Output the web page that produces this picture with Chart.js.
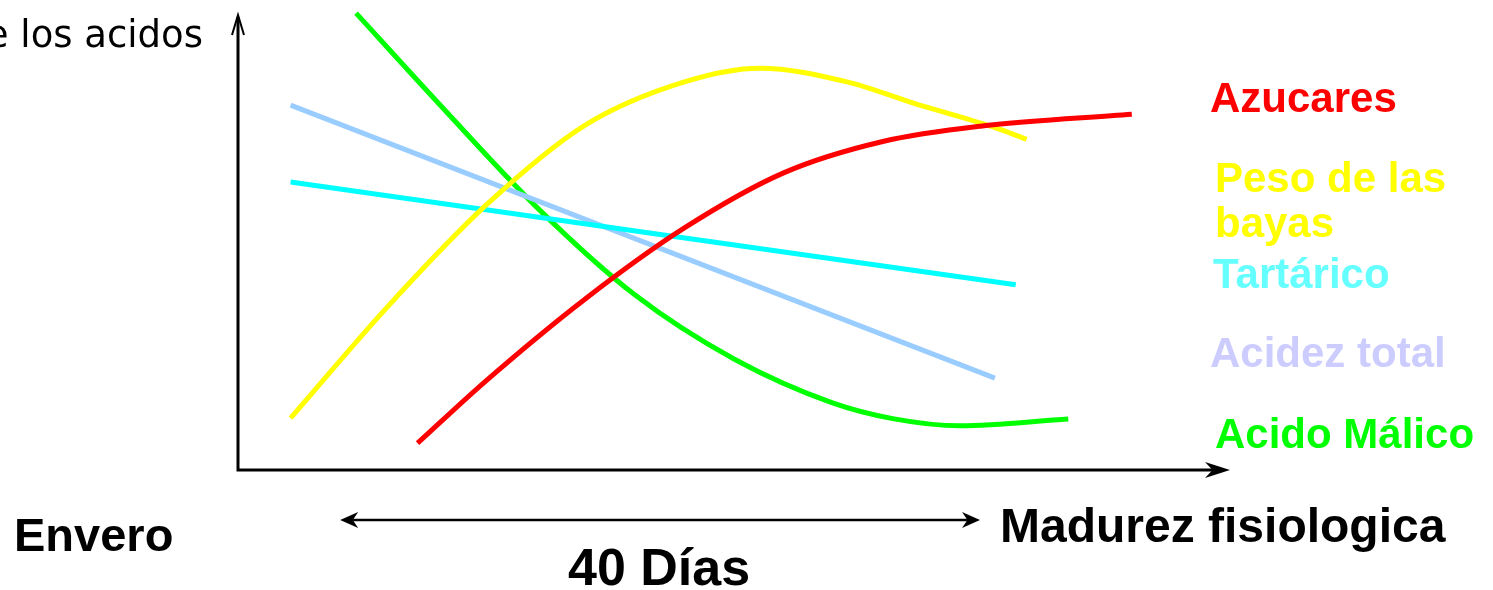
<!DOCTYPE html>
<html lang="es">
<head>
<meta charset="UTF-8">
<title>Maduracion de la uva</title>
<script src="https://cdn.jsdelivr.net/npm/chart.js"></script>
<style>
  html, body { margin: 0; padding: 0; background: #fff; }
  canvas { display: block; }
</style>
</head>
<body>
<canvas id="grafico" width="1493" height="590"></canvas>

<script>
// datos (x: 0-100 desde el eje, y: 0-100 relativo)
const nombres = ['Azucares', 'Peso de las bayas', 'Tartárico', 'Acidez total', 'Acido Málico'];
const etiquetas = [['Azucares'], ['Peso de las', 'bayas'], ['Tartárico'], ['Acidez total'], ['Acido Málico']];
const coloresLinea = ['#ff0000', '#ffff00', '#00ffff', '#99ccff', '#00ff00'];
const coloresTexto = ['#ff0000', '#ffff00', '#66ffff', '#ccccff', '#00ff00'];

const azucaresX = [18.1, 25, 35, 45, 55, 65, 75, 90.1];
const azucaresY = [5.9, 19.6, 37.6, 53.2, 65.3, 72.2, 75.6, 78.2];

const pesoX = [5.3, 15, 25, 35, 45, 52.6, 61.4, 68, 76.1, 79.5];
const pesoY = [11.4, 35.7, 58.2, 75.8, 85.3, 88.3, 85.3, 80.7, 75.4, 72.7];

const tartaricoX = [5.3, 78.4];
const tartaricoY = [63.3, 40.7];

const acidezX = [5.3, 76.3];
const acidezY = [80.2, 20.2];

const malicoX = [11.9, 20, 30, 40, 50, 60, 66, 72.8, 83.7];
const malicoY = [100.4, 81.1, 58.0, 38.5, 24.4, 14.7, 11.3, 9.7, 11.2];

const tituloY = 'Evolución de los acidos';
const textoInicio = 'Envero';
const textoFin = 'Madurez fisiologica';
const textoDias = '40 Días';
const rangoDias = [10.3, 74.8]; // flecha doble, en unidades del eje x

function puntos(xs, ys) {
    let lista = [];
    for (let i = 0; i < xs.length; i++) {
        lista.push({ x: xs[i], y: ys[i] });
    }
    return lista;
}

const series = [
    puntos(azucaresX, azucaresY),
    puntos(pesoX, pesoY),
    puntos(tartaricoX, tartaricoY),
    puntos(acidezX, acidezY),
    puntos(malicoX, malicoY)
];

const datasets = series.map(function (d, i) {
    return {
        label: nombres[i],
        data: d,
        borderColor: coloresLinea[i],
        borderWidth: 5,
        pointRadius: 0,
        fill: false,
        clip: false,
        cubicInterpolationMode: 'monotone'
    };
});

function punta(ctx, x, y, dir, largo, ancho) {
    // flecha rellena con muesca, dir = angulo en radianes
    ctx.save();
    ctx.translate(x, y);
    ctx.rotate(dir);
    ctx.beginPath();
    ctx.moveTo(0, 0);
    ctx.lineTo(-largo, -ancho);
    ctx.lineTo(-largo * 0.7, 0);
    ctx.lineTo(-largo, ancho);
    ctx.closePath();
    ctx.fill();
    ctx.restore();
}

// dibuja ejes, flechas y textos
const decoracion = {
    id: 'decoracion',
    beforeDatasetsDraw(chart) {
        const ctx = chart.ctx;
        const sx = chart.scales.x;
        const sy = chart.scales.y;
        const x0 = sx.getPixelForValue(0);
        const y0 = sy.getPixelForValue(0);
        const xFin = sx.getPixelForValue(100);
        const yFin = sy.getPixelForValue(100);

        ctx.save();
        ctx.strokeStyle = '#000';
        ctx.fillStyle = '#000';
        ctx.lineWidth = 3;
        ctx.beginPath();
        ctx.moveTo(x0, yFin + 2);
        ctx.lineTo(x0, y0);
        ctx.lineTo(xFin - 6, y0);
        ctx.stroke();

        // punta abierta del eje y
        ctx.lineWidth = 2;
        ctx.beginPath();
        ctx.moveTo(x0 - 6, yFin + 20);
        ctx.lineTo(x0, yFin);
        ctx.lineTo(x0 + 6, yFin + 20);
        ctx.stroke();

        // punta del eje x
        punta(ctx, xFin, y0, 0, 25, 8);
        ctx.restore();
    },
    afterDraw(chart) {
        const ctx = chart.ctx;
        const sx = chart.scales.x;
        const x0 = sx.getPixelForValue(0);

        ctx.save();
        // titulo del eje y (cortado a la izquierda como en el original)
        ctx.fillStyle = '#000';
        ctx.font = '37px "DejaVu Sans"';
        ctx.textAlign = 'right';
        ctx.textBaseline = 'alphabetic';
        ctx.fillText(tituloY, x0 - 35, 47);

        // etiquetas de las series
        ctx.textAlign = 'left';
        ctx.font = 'bold 42px "Liberation Sans", Arial, sans-serif';
        const posEtiquetas = [[1210, 112], [1215, 192], [1213, 288], [1210, 367], [1215, 448]];
        etiquetas.forEach(function (lineas, i) {
            ctx.fillStyle = coloresTexto[i];
            lineas.forEach(function (t, j) {
                ctx.fillText(t, posEtiquetas[i][0], posEtiquetas[i][1] + j * 45);
            });
        });

        // textos inferiores
        ctx.fillStyle = '#000';
        ctx.font = 'bold 47px "Liberation Sans", Arial, sans-serif';
        ctx.fillText(textoInicio, 14, 551);
        ctx.font = 'bold 48px "Liberation Sans", Arial, sans-serif';
        ctx.fillText(textoFin, 1000, 542);

        // flecha doble de 40 dias
        const xa = sx.getPixelForValue(rangoDias[0]);
        const xb = sx.getPixelForValue(rangoDias[1]);
        const yf = 520;
        ctx.strokeStyle = '#000';
        ctx.lineWidth = 2.5;
        ctx.beginPath();
        ctx.moveTo(xa + 8, yf);
        ctx.lineTo(xb - 8, yf);
        ctx.stroke();
        punta(ctx, xa, yf, Math.PI, 18, 8);
        punta(ctx, xb, yf, 0, 18, 8);

        ctx.font = 'bold 52px "Liberation Sans Narrow", "Liberation Sans", Arial, sans-serif';
        ctx.textAlign = 'center';
        ctx.fillText(textoDias, (xa + xb) / 2 - 1, 585);
        ctx.restore();
    }
};

const config = {
    type: 'line',
    data: { datasets: datasets },
    options: {
        responsive: false,
        animation: false,
        layout: { padding: { left: 238, right: 263, top: 15, bottom: 120 } },
        plugins: {
            legend: { display: false },
            tooltip: { enabled: false }
        },
        scales: {
            x: { type: 'linear', min: 0, max: 100, display: false },
            y: { type: 'linear', min: 0, max: 100, display: false }
        }
    },
    plugins: [decoracion]
};

let grafico = new Chart(document.getElementById('grafico'), config);
</script>
</body>
</html>
